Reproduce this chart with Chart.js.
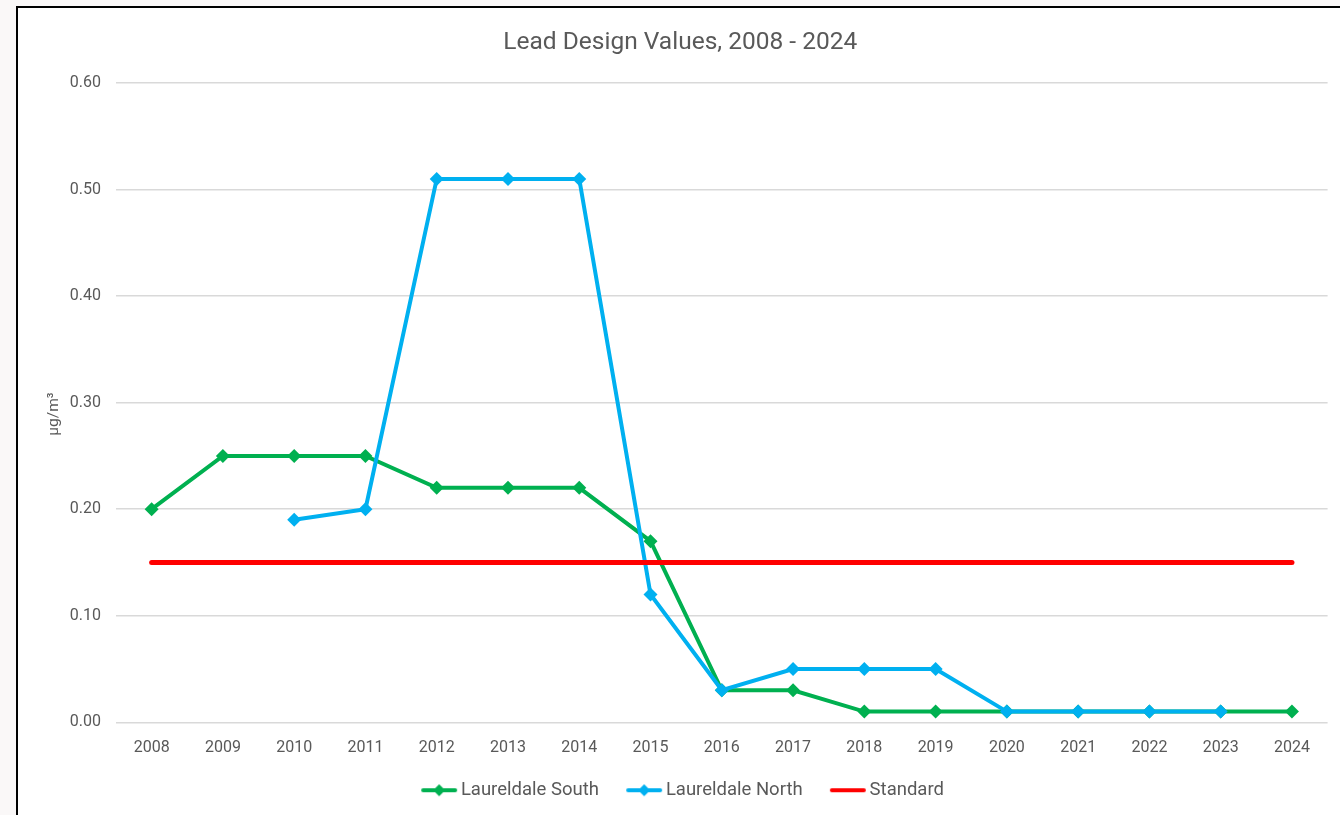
<!DOCTYPE html>
<html>
<head>
<meta charset="utf-8">
<script src="https://cdn.jsdelivr.net/npm/chart.js@4.4.1/dist/chart.umd.min.js"></script>
<style>
  html, body { margin: 0; padding: 0; background: #faf8f8; overflow: hidden; }
  #frame {
    position: absolute; left: 16px; top: 6px;
    width: 1340px; height: 820px;
    border-left: 2px solid #000; border-top: 2px solid #000;
    background: #fff;
    overflow: hidden;
  }
  #wrap { position: absolute; left: 0; top: 0; width: 1330px; height: 802px; }
</style>
</head>
<body>
<div id="frame"><div id="wrap"><canvas id="chart"></canvas></div></div>
<script>
const years = ['2008','2009','2010','2011','2012','2013','2014','2015','2016','2017','2018','2019','2020','2021','2022','2023','2024'];
const laureldaleSouth = [0.20, 0.25, 0.25, 0.25, 0.22, 0.22, 0.22, 0.17, 0.03, 0.03, 0.01, 0.01, 0.01, 0.01, 0.01, 0.01, 0.01];
const laureldaleNorth = [null, null, 0.19, 0.20, 0.51, 0.51, 0.51, 0.12, 0.03, 0.05, 0.05, 0.05, 0.01, 0.01, 0.01, 0.01, null];
const standard = [0.15, 0.15, 0.15, 0.15, 0.15, 0.15, 0.15, 0.15, 0.15, 0.15, 0.15, 0.15, 0.15, 0.15, 0.15, 0.15, 0.15];

const GREEN = '#00b050';
const BLUE = '#00b0f0';
const RED = '#ff0000';
const TEXT = '#595959';
const GRID = '#d9d9d9';
const FONT = 'Roboto, "Open Sans", sans-serif';

// line + diamond icon for the legend, drawn at the right end of a wider image
function legendIcon(color, diamond) {
  const c = document.createElement('canvas');
  c.width = 48; c.height = 14;
  const g = c.getContext('2d');
  g.strokeStyle = color;
  g.lineWidth = 4;
  g.lineCap = 'round';
  g.beginPath(); g.moveTo(13, 7); g.lineTo(45, 7); g.stroke();
  if (diamond) {
    g.fillStyle = color;
    g.beginPath(); g.moveTo(29, 1); g.lineTo(35, 7); g.lineTo(29, 13); g.lineTo(23, 7); g.closePath(); g.fill();
  }
  return c;
}

const ctx = document.getElementById('chart').getContext('2d');
new Chart(ctx, {
  type: 'line',
  data: {
    labels: years,
    datasets: [
      {
        label: 'Laureldale South',
        data: laureldaleSouth,
        borderColor: GREEN,
        backgroundColor: GREEN,
        borderWidth: 4,
        pointStyle: 'rectRot',
        pointRadius: 7,
        pointBorderWidth: 0,
        tension: 0,
        order: 3,
        icon: legendIcon(GREEN, true)
      },
      {
        label: 'Laureldale North',
        data: laureldaleNorth,
        borderColor: BLUE,
        backgroundColor: BLUE,
        borderWidth: 4,
        pointStyle: 'rectRot',
        pointRadius: 7,
        pointBorderWidth: 0,
        tension: 0,
        order: 2,
        icon: legendIcon(BLUE, true)
      },
      {
        label: 'Standard',
        data: standard,
        borderColor: RED,
        backgroundColor: RED,
        borderWidth: 5,
        borderCapStyle: 'round',
        pointRadius: 0,
        tension: 0,
        order: 1,
        icon: legendIcon(RED, false)
      }
    ]
  },
  options: {
    responsive: true,
    maintainAspectRatio: false,
    animation: false,
    layout: { padding: { left: 15, right: 20.4, top: 0, bottom: 0.5 } },
    scales: {
      x: {
        offset: true,
        grid: { display: false, drawTicks: false },
        border: { display: false },
        ticks: { color: TEXT, font: { family: FONT, size: 16 }, padding: 16.5, maxRotation: 0 },
        afterFit: (scale) => { scale.height = 36; }
      },
      y: {
        min: 0,
        max: 0.6,
        ticks: {
          stepSize: 0.1,
          color: TEXT,
          font: { family: FONT, size: 16 },
          padding: 15,
          callback: (v) => v.toFixed(2)
        },
        grid: {
          color: GRID,
          lineWidth: 1.5,
          drawTicks: false
        },
        border: { display: false },
        title: {
          display: true,
          text: 'µg/m³      ',
          color: TEXT,
          font: { family: FONT, size: 15.5 },
          padding: { top: 12, bottom: 0 }
        },
        afterFit: (scale) => { scale.width = 83; }
      }
    },
    plugins: {
      title: {
        display: true,
        text: 'Lead Design Values, 2008 - 2024',
        color: TEXT,
        font: { family: FONT, size: 24.5, weight: 'normal' },
        padding: { top: 20.3, bottom: 25.3 }
      },
      legend: {
        position: 'bottom',
        labels: {
          color: TEXT,
          font: { family: FONT, size: 18.5 },
          usePointStyle: true,
          pointStyleWidth: 35,
          padding: 22.75,
          generateLabels: (chart) => chart.data.datasets.map((ds, i) => ({
            text: ds.label,
            pointStyle: ds.icon,
            fillStyle: ds.borderColor,
            strokeStyle: ds.borderColor,
            lineWidth: 0,
            fontColor: TEXT,
            hidden: false,
            datasetIndex: i
          }))
        }
      },
      tooltip: { enabled: false }
    }
  }
});
</script>
</body>
</html>
